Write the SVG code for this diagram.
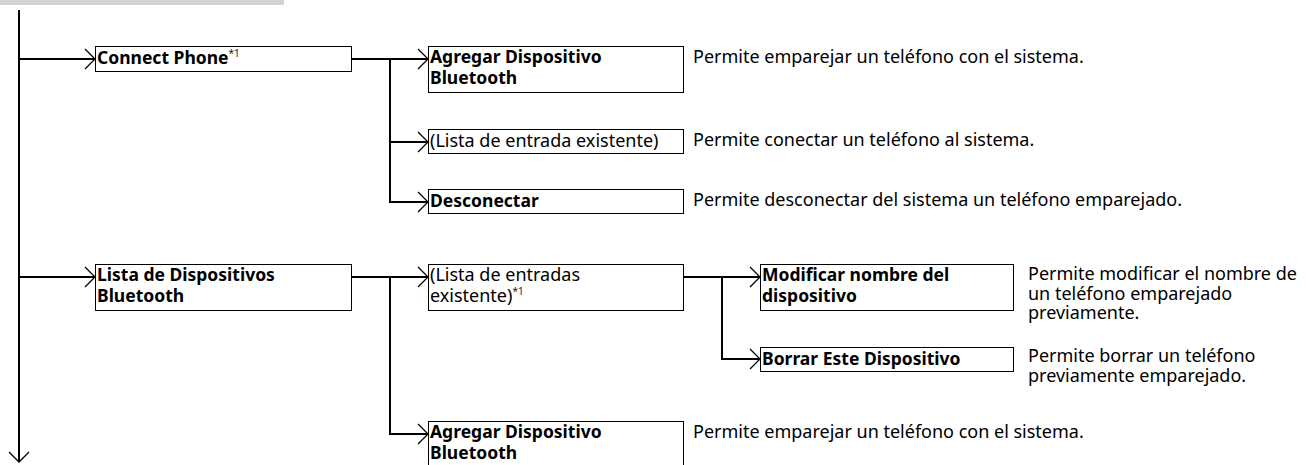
<svg xmlns="http://www.w3.org/2000/svg" width="1306" height="465" viewBox="0 0 1306 465">
<style>
.box{fill:#fff;stroke:#000;stroke-width:1}
.ln{fill:none;stroke:#000;stroke-width:2}
.b{font-family:"Noto Sans",sans-serif;font-weight:bold;font-size:17.5px;fill:#000}
.r{font-family:"Noto Sans",sans-serif;font-size:18px;fill:#000}
.d{font-family:"Noto Sans",sans-serif;font-size:18px;fill:#000}
.sup{font-size:10px;font-weight:normal;fill:#222}
</style>
<defs>
<marker id="arr" viewBox="0 0 12 22" refX="11" refY="11" markerWidth="12" markerHeight="22" markerUnits="userSpaceOnUse" orient="auto">
<path d="M1,1 L11,11 L1,21" fill="none" stroke="#000" stroke-width="1.3"/>
</marker>
</defs>
<rect x="0" y="0" width="284" height="5" fill="#d1d3d4"/>
<g id="connectors">
<path class="ln" d="M19,10 V462" marker-end="url(#arr)"/>
<path class="ln" d="M19,59 H95" marker-end="url(#arr)"/>
<path class="ln" d="M19,277 H95" marker-end="url(#arr)"/>
<path class="ln" d="M352,59 H428" marker-end="url(#arr)"/>
<path class="ln" d="M390,59 V142 H428" marker-end="url(#arr)"/>
<path class="ln" d="M390,142 V202 H428" marker-end="url(#arr)"/>
<path class="ln" d="M352,277 H428" marker-end="url(#arr)"/>
<path class="ln" d="M390,277 V434 H428" marker-end="url(#arr)"/>
<path class="ln" d="M684,277 H760" marker-end="url(#arr)"/>
<path class="ln" d="M722,277 V359 H760" marker-end="url(#arr)"/>
</g>
<g id="connect-phone">
<rect class="box" x="95.5" y="46.5" width="256" height="25"/>
<text class="b" x="97" y="64">Connect Phone<tspan class="sup" dy="-7">*1</tspan></text>
</g>
<g id="agregar-1">
<rect class="box" x="428.5" y="46.5" width="255" height="46"/>
<text class="b" x="430" y="63">Agregar Dispositivo</text>
<text class="b" x="430" y="84">Bluetooth</text>
<text class="d" x="693" y="63">Permite emparejar un teléfono con el sistema.</text>
</g>
<g id="lista-entrada">
<rect class="box" x="428.5" y="129.5" width="255" height="24"/>
<text class="r" x="430" y="147">(Lista de entrada existente)</text>
<text class="d" x="693" y="146">Permite conectar un teléfono al sistema.</text>
</g>
<g id="desconectar">
<rect class="box" x="428.5" y="189.5" width="255" height="24"/>
<text class="b" x="430" y="207">Desconectar</text>
<text class="d" x="693" y="206">Permite desconectar del sistema un teléfono emparejado.</text>
</g>
<g id="lista-dispositivos">
<rect class="box" x="95.5" y="264.5" width="256" height="46"/>
<text class="b" x="97" y="281">Lista de Dispositivos</text>
<text class="b" x="97" y="302">Bluetooth</text>
</g>
<g id="lista-entradas">
<rect class="box" x="428.5" y="264.5" width="255" height="46"/>
<text class="r" x="430" y="281">(Lista de entradas</text>
<text class="r" x="430" y="302">existente)<tspan class="sup" dy="-7">*1</tspan></text>
</g>
<g id="modificar">
<rect class="box" x="760.5" y="264.5" width="253" height="46"/>
<text class="b" x="762" y="281">Modificar nombre del</text>
<text class="b" x="762" y="302">dispositivo</text>
<text class="d" x="1028" y="280">Permite modificar el nombre de</text>
<text class="d" x="1028" y="299.5">un teléfono emparejado</text>
<text class="d" x="1028" y="319">previamente.</text>
</g>
<g id="borrar">
<rect class="box" x="760.5" y="347.5" width="253" height="24"/>
<text class="b" x="762" y="365">Borrar Este Dispositivo</text>
<text class="d" x="1028" y="362">Permite borrar un teléfono</text>
<text class="d" x="1028" y="381.5">previamente emparejado.</text>
</g>
<g id="agregar-2">
<rect class="box" x="428.5" y="421.5" width="255" height="60"/>
<text class="b" x="430" y="438">Agregar Dispositivo</text>
<text class="b" x="430" y="459">Bluetooth</text>
<text class="d" x="693" y="438">Permite emparejar un teléfono con el sistema.</text>
</g>
</svg>
